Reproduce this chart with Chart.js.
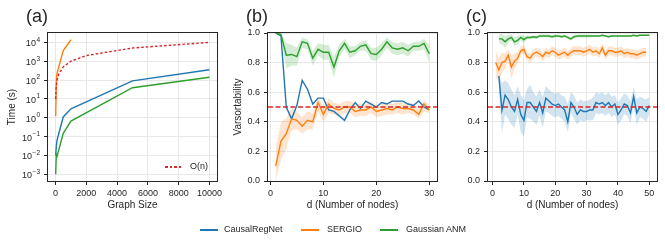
<!DOCTYPE html>
<html><head><meta charset="utf-8">
<script src="https://cdn.jsdelivr.net/npm/chart.js@4.4.1/dist/chart.umd.min.js"></script>
<style>
html,body{margin:0;padding:0;background:#fff;}
#wrap{position:relative;width:665px;height:246px;overflow:hidden;font-family:"Liberation Sans",Arial,sans-serif;color:#262626;background:#fff;}
canvas{position:absolute;left:0;top:0;}
.plabel{position:absolute;font-size:18px;line-height:18px;white-space:nowrap;}
.leg{position:absolute;font-size:9px;line-height:10px;white-space:nowrap;}
.sw{position:absolute;height:1.5px;}
</style></head><body>
<div id="wrap">
<canvas id="ca" width="665" height="246"></canvas>
<canvas id="cb" width="665" height="246"></canvas>
<canvas id="cc" width="665" height="246"></canvas>
<div class="plabel" style="left:26px;top:7px">(a)</div>
<div class="plabel" style="left:246px;top:7px">(b)</div>
<div class="plabel" style="left:466px;top:7px">(c)</div>
<div class="sw" style="left:165px;top:166px;width:18px;background:repeating-linear-gradient(90deg,#d62728 0 2.6px,transparent 2.6px 4.6px)"></div>
<div class="leg" style="left:190px;top:161px">O(n)</div>
<div class="sw" style="left:200px;top:229px;width:18px;background:#1f77b4"></div>
<div class="leg" style="left:224px;top:224px">CausalRegNet</div>
<div class="sw" style="left:301px;top:229px;width:18px;background:#ff7f0e"></div>
<div class="leg" style="left:327px;top:224px">SERGIO</div>
<div class="sw" style="left:380px;top:229px;width:18px;background:#2ca02c"></div>
<div class="leg" style="left:406px;top:224px">Gaussian ANM</div>
</div>
<script>
// ---------- Panel (a): runtime vs graph size ----------
const sizes = [10, 50, 100, 500, 1000, 5000, 10000];
const sizesSERGIO = [10, 50, 100, 500, 1000];
const timeCausalRegNet = [0.01, 0.03, 0.066, 1.1, 3.0, 90, 350];
const timeSERGIO = [1.2, 80, 230, 3700, 13800];
const timeGaussianANM = [0.001, 0.011, 0.009, 0.15, 0.66, 39, 140];
const onSizes = [10, 20, 50, 100, 200, 500, 1000, 2000, 5000, 10000];
const onValues = [10, 20, 50, 100, 200, 500, 1000, 2000, 5000, 10000];
const xTicksA = [0, 2000, 4000, 6000, 8000, 10000];
const yExpA = [-3, -2, -1, 0, 1, 2, 3, 4];

// ---------- Panel (b): varsortability, d = 1..30 ----------
const dB = [1,2,3,4,5,6,7,8,9,10,11,12,13,14,15,16,17,18,19,20,21,22,23,24,25,26,27,28,29,30];
const blueB = [1.00,0.98,0.50,0.42,0.51,0.68,0.62,0.52,0.56,0.56,0.48,0.47,0.44,0.41,0.48,0.53,0.49,0.54,0.52,0.50,0.53,0.52,0.54,0.54,0.54,0.52,0.51,0.54,0.50,0.48];
const orangeB = [0.10,0.27,0.32,0.42,0.41,0.37,0.41,0.40,0.53,0.45,0.52,0.49,0.48,0.50,0.50,0.47,0.48,0.48,0.50,0.47,0.48,0.49,0.48,0.50,0.49,0.49,0.48,0.45,0.52,0.48];
const orangeBLo = [0.00,0.14,0.22,0.34,0.35,0.32,0.35,0.35,0.47,0.40,0.46,0.45,0.44,0.46,0.46,0.43,0.44,0.44,0.46,0.43,0.44,0.45,0.45,0.46,0.45,0.46,0.45,0.42,0.47,0.46];
const orangeBHi = [0.22,0.40,0.42,0.50,0.47,0.43,0.47,0.46,0.57,0.50,0.56,0.53,0.52,0.54,0.54,0.52,0.52,0.52,0.54,0.51,0.52,0.53,0.52,0.54,0.53,0.53,0.52,0.49,0.55,0.51];
const greenB = [1.00,0.99,0.85,0.855,0.84,0.94,0.93,0.83,0.89,0.87,0.87,0.77,0.88,0.93,0.87,0.88,0.91,0.92,0.86,0.855,0.89,0.94,0.90,0.89,0.90,0.88,0.91,0.91,0.93,0.86];
const greenBLo = [1.00,0.98,0.76,0.78,0.78,0.90,0.89,0.78,0.85,0.82,0.82,0.70,0.84,0.89,0.83,0.85,0.88,0.88,0.82,0.81,0.85,0.90,0.86,0.85,0.86,0.84,0.88,0.88,0.89,0.80];
const greenBHi = [1.00,1.00,0.93,0.92,0.90,0.97,0.96,0.88,0.93,0.92,0.92,0.84,0.92,0.96,0.91,0.91,0.94,0.95,0.90,0.90,0.93,0.97,0.94,0.93,0.94,0.92,0.94,0.94,0.96,0.92];
const xTicksB = [0, 10, 20, 30];

// ---------- Panel (c): varsortability, d up to 50 ----------
const dC2 = [2,3,4,5,6,7,8,9,10,11,12,13,14,15,16,17,18,19,20,21,22,23,24,25,26,27,28,29,30,31,32,33,34,35,36,37,38,39,40,41,42,43,44,45,46,47,48,49,50];
const dC1 = [1,2,3,4,5,6,7,8,9,10,11,12,13,14,15,16,17,18,19,20,21,22,23,24,25,26,27,28,29,30,31,32,33,34,35,36,37,38,39,40,41,42,43,44,45,46,47,48,49];
const blueC = [0.71,0.48,0.58,0.55,0.50,0.47,0.55,0.45,0.41,0.53,0.53,0.50,0.47,0.53,0.46,0.56,0.54,0.52,0.51,0.52,0.50,0.48,0.40,0.53,0.50,0.45,0.48,0.47,0.47,0.48,0.48,0.53,0.52,0.53,0.51,0.53,0.50,0.52,0.45,0.48,0.52,0.51,0.46,0.57,0.46,0.50,0.49,0.47,0.51];
const blueCLo = [0.62,0.32,0.45,0.42,0.38,0.36,0.45,0.33,0.30,0.43,0.42,0.40,0.38,0.44,0.36,0.47,0.46,0.44,0.43,0.44,0.42,0.40,0.33,0.46,0.42,0.38,0.41,0.40,0.41,0.41,0.41,0.46,0.45,0.46,0.44,0.46,0.43,0.45,0.38,0.41,0.45,0.44,0.39,0.50,0.38,0.43,0.42,0.40,0.45];
const blueCHi = [0.72,0.66,0.68,0.66,0.62,0.58,0.64,0.58,0.55,0.62,0.65,0.60,0.57,0.62,0.57,0.64,0.62,0.60,0.59,0.60,0.58,0.57,0.52,0.60,0.58,0.53,0.55,0.54,0.54,0.55,0.56,0.60,0.59,0.60,0.58,0.60,0.57,0.58,0.53,0.56,0.59,0.58,0.54,0.63,0.55,0.57,0.56,0.55,0.57];
const orangeC = [0.80,0.75,0.80,0.81,0.85,0.77,0.81,0.83,0.88,0.89,0.84,0.83,0.86,0.87,0.86,0.84,0.87,0.86,0.88,0.87,0.85,0.86,0.87,0.85,0.87,0.88,0.88,0.88,0.87,0.88,0.89,0.87,0.88,0.86,0.90,0.85,0.88,0.88,0.87,0.87,0.88,0.86,0.87,0.86,0.86,0.85,0.86,0.87,0.87];
const orangeCLo = [0.70,0.68,0.73,0.76,0.81,0.69,0.76,0.79,0.85,0.86,0.81,0.80,0.83,0.84,0.83,0.81,0.84,0.83,0.85,0.84,0.82,0.83,0.84,0.82,0.84,0.85,0.85,0.85,0.84,0.85,0.86,0.84,0.85,0.83,0.87,0.82,0.85,0.85,0.84,0.84,0.85,0.83,0.84,0.83,0.83,0.82,0.83,0.84,0.84];
const orangeCHi = [0.88,0.83,0.87,0.86,0.89,0.85,0.86,0.87,0.91,0.92,0.87,0.86,0.89,0.90,0.89,0.87,0.90,0.89,0.91,0.90,0.88,0.89,0.90,0.88,0.90,0.91,0.91,0.91,0.90,0.91,0.92,0.90,0.91,0.89,0.93,0.88,0.91,0.91,0.90,0.90,0.91,0.89,0.90,0.89,0.89,0.88,0.89,0.90,0.90];
const greenC = [0.96,0.96,0.94,0.96,0.97,0.94,0.95,0.97,0.955,0.97,0.97,0.975,0.97,0.98,0.98,0.98,0.98,0.975,0.98,0.98,0.975,0.98,0.97,0.96,0.975,0.98,0.98,0.98,0.98,0.98,0.98,0.98,0.98,0.985,0.98,0.975,0.98,0.98,0.98,0.98,0.98,0.98,0.98,0.985,0.98,0.985,0.985,0.985,0.985];
const greenCLo = [0.93,0.92,0.90,0.93,0.95,0.91,0.92,0.95,0.93,0.955,0.96,0.965,0.96,0.97,0.97,0.97,0.97,0.965,0.97,0.97,0.965,0.97,0.96,0.95,0.965,0.97,0.97,0.97,0.97,0.97,0.975,0.975,0.975,0.98,0.975,0.97,0.975,0.975,0.975,0.975,0.975,0.975,0.975,0.98,0.975,0.98,0.98,0.98,0.98];
const greenCHi = [0.99,0.995,0.98,0.99,0.99,0.97,0.98,0.99,0.98,0.985,0.98,0.985,0.98,0.99,0.99,0.99,0.99,0.985,0.99,0.99,0.985,0.99,0.98,0.97,0.985,0.99,0.99,0.99,0.99,0.99,0.985,0.985,0.985,0.99,0.985,0.98,0.985,0.985,0.985,0.985,0.985,0.985,0.985,0.99,0.985,0.99,0.99,0.99,0.99];
const xTicksC = [0, 10, 20, 30, 40, 50];
const yTicksBC = [0, 0.2, 0.4, 0.6, 0.8, 1.0];
const refLevel = 0.5;

const C_BLUE = '#1f77b4', C_ORANGE = '#ff7f0e', C_GREEN = '#2ca02c', C_RED = '#d62728';
const BAND = {blue:'rgba(31,119,180,0.2)', orange:'rgba(255,127,14,0.2)', green:'rgba(44,160,44,0.2)'};
const FONT = '"Liberation Sans", Arial, sans-serif';
const TXT = '#262626';

Chart.defaults.font.family = FONT;
Chart.defaults.color = TXT;

const pts = (xs, ys) => xs.map((x, i) => ({x, y: ys[i]}));

const framePlugin = {
  id: 'frame',
  afterDatasetsDraw(chart, args, opts) {
    const {ctx, chartArea: a, scales} = chart;
    ctx.save();
    if (opts.hline !== undefined) {
      const y = scales.y.getPixelForValue(opts.hline);
      ctx.strokeStyle = C_RED; ctx.lineWidth = 1.4; ctx.setLineDash([5, 2.5]);
      ctx.beginPath(); ctx.moveTo(a.left, y); ctx.lineTo(a.right, y); ctx.stroke();
      ctx.setLineDash([]);
    }
    ctx.strokeStyle = TXT; ctx.lineWidth = 1;
    ctx.strokeRect(Math.round(a.left) - 0.5, Math.round(a.top) - 0.5, Math.round(a.right - a.left) + 1, Math.round(a.bottom - a.top) + 1);
    ctx.restore();
  }
};

// y tick labels of the log axis, written as 10 with a raised exponent
const supTickPlugin = {
  id: 'supTicks',
  afterDraw(chart) {
    const {ctx, scales: {y}, chartArea: a} = chart;
    ctx.save();
    ctx.fillStyle = TXT; ctx.textBaseline = 'middle'; ctx.textAlign = 'left';
    y.ticks.forEach(t => {
      const py = y.getPixelForValue(t.value);
      const e = String(Math.round(Math.log10(t.value))).replace('-', '\u2212');
      ctx.font = '6.5px ' + FONT; const ew = ctx.measureText(e).width;
      ctx.font = '9px ' + FONT; const bw = ctx.measureText('10').width;
      const right = a.left - 8;
      ctx.fillText('10', right - ew - bw - 0.5, py + 1.5);
      ctx.font = '6.5px ' + FONT;
      ctx.fillText(e, right - ew, py - 2.5);
    });
    ctx.restore();
  }
};

function axisX(min, max, ticks, title) {
  return {
    type: 'linear', min, max,
    afterBuildTicks: s => { s.ticks = ticks.map(v => ({value: v})); },
    afterFit: s => { s.height = 33; },
    grid: {color: '#e8e8e8', lineWidth: 1, tickColor: TXT, tickLength: 4, drawTicks: true},
    border: {display: false},
    ticks: {font: {size: 9}, color: TXT, padding: 3, maxRotation: 0, autoSkip: false, callback: v => String(v)},
    title: {display: true, text: title, font: {size: 10}, color: TXT, padding: {top: 0, bottom: 3}}
  };
}
function axisY(opts) {
  return Object.assign({
    grid: {color: '#e8e8e8', lineWidth: 1, tickColor: TXT, tickLength: 4, drawTicks: true},
    border: {display: false},
  }, opts);
}
const baseOpts = (padLeft, padRight) => ({
  responsive: false, animation: false, devicePixelRatio: 1,
  layout: {padding: {left: padLeft, right: padRight, top: 33, bottom: 32}},
  plugins: {legend: {display: false}, tooltip: {enabled: false}, filler: {drawTime: 'beforeDatasetsDraw'}},
  elements: {point: {radius: 0}, line: {tension: 0, borderWidth: 1.4}},
});

const lineDs = (data, color, extra) => Object.assign({data, borderColor: color, backgroundColor: color, fill: false, pointRadius: 0, borderWidth: 1.4}, extra || {});
const bandDs = (data, color, target) => ({data, borderWidth: 0, borderColor: 'rgba(0,0,0,0)', backgroundColor: color, pointRadius: 0, fill: target === undefined ? false : {target}});

// ---------- Chart (a) ----------
const optsA = baseOpts(0, 665 - 217);
optsA.scales = {
  x: axisX(-490, 10490, xTicksA, 'Graph Size'),
  y: axisY({
    type: 'logarithmic', min: Math.pow(10, -3.357), max: Math.pow(10, 4.497),
    afterBuildTicks: s => { s.ticks = yExpA.map(e => ({value: Math.pow(10, e)})); },
    afterFit: s => { s.width = 48; },
    ticks: {display: false},
    title: {display: true, text: 'Time (s)', font: {size: 10}, color: TXT, padding: {top: 6, bottom: 0}}
  })
};
optsA.plugins.frame = {};
new Chart(document.getElementById('ca'), {
  type: 'line',
  data: {datasets: [
    lineDs(pts(onSizes, onValues), C_RED, {borderDash: [2.6, 2], borderWidth: 1.4}),
    lineDs(pts(sizes, timeGaussianANM), C_GREEN),
    lineDs(pts(sizesSERGIO, timeSERGIO), C_ORANGE),
    lineDs(pts(sizes, timeCausalRegNet), C_BLUE),
  ]},
  options: optsA,
  plugins: [framePlugin, supTickPlugin]
});

// ---------- Chart (b) ----------
const optsB = baseOpts(228, 665 - 437);
optsB.scales = {
  x: axisX(-0.45, 31.45, xTicksB, 'd (Number of nodes)'),
  y: axisY({
    type: 'linear', min: 0, max: 1,
    afterBuildTicks: s => { s.ticks = yTicksBC.map(v => ({value: v})); },
    afterFit: s => { s.width = 40; },
    ticks: {font: {size: 9}, color: TXT, padding: 4, callback: v => v.toFixed(1)},
    title: {display: true, text: 'Varsortability', font: {size: 10}, color: TXT, padding: {top: 4, bottom: 0}}
  })
};
optsB.plugins.frame = {hline: refLevel};
new Chart(document.getElementById('cb'), {
  type: 'line',
  data: {datasets: [
    lineDs(pts(dB, greenB), C_GREEN),
    lineDs(pts(dB, orangeB), C_ORANGE),
    lineDs(pts(dB, blueB), C_BLUE),
    bandDs(pts(dB, greenBLo), BAND.green),
    bandDs(pts(dB, greenBHi), BAND.green, 3),
    bandDs(pts(dB, orangeBLo), BAND.orange),
    bandDs(pts(dB, orangeBHi), BAND.orange, 5),
  ]},
  options: optsB,
  plugins: [framePlugin]
});

// ---------- Chart (c) ----------
const optsC = baseOpts(448, 665 - 657);
optsC.scales = {
  x: axisX(-1.45, 52.45, xTicksC, 'd (Number of nodes)'),
  y: axisY({
    type: 'linear', min: 0, max: 1,
    afterBuildTicks: s => { s.ticks = yTicksBC.map(v => ({value: v})); },
    afterFit: s => { s.width = 40; },
    ticks: {font: {size: 9}, color: TXT, padding: 4, callback: v => v.toFixed(1)},
    title: {display: false}
  })
};
optsC.plugins.frame = {hline: refLevel};
new Chart(document.getElementById('cc'), {
  type: 'line',
  data: {datasets: [
    lineDs(pts(dC2, greenC), C_GREEN),
    lineDs(pts(dC1, orangeC), C_ORANGE),
    lineDs(pts(dC2, blueC), C_BLUE),
    bandDs(pts(dC2, greenCLo), BAND.green),
    bandDs(pts(dC2, greenCHi), BAND.green, 3),
    bandDs(pts(dC1, orangeCLo), BAND.orange),
    bandDs(pts(dC1, orangeCHi), BAND.orange, 5),
    bandDs(pts(dC2, blueCLo), BAND.blue),
    bandDs(pts(dC2, blueCHi), BAND.blue, 7),
  ]},
  options: optsC,
  plugins: [framePlugin]
});
</script>
</body></html>
